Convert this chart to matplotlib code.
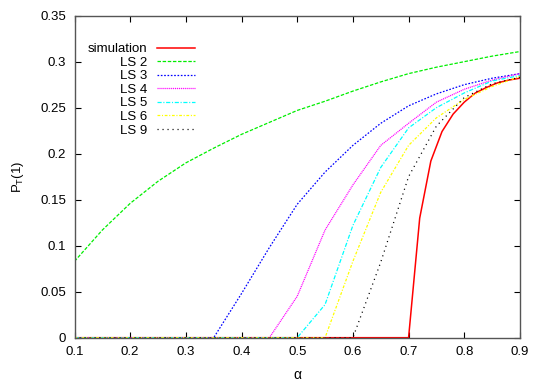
import matplotlib
matplotlib.use("Agg")
import matplotlib.pyplot as plt

plt.rcParams['font.family'] = ['Liberation Sans', 'DejaVu Sans']
plt.rcParams['mathtext.fontset'] = 'custom'
plt.rcParams['mathtext.rm'] = 'Liberation Sans'
plt.rcParams['lines.scale_dashes'] = False

# simulation (red)
sim_x = [0.1, 0.70, 0.72, 0.74, 0.76, 0.78, 0.80, 0.82, 0.84, 0.86, 0.88, 0.90]
sim_y = [0.0, 0.0, 0.130, 0.192, 0.224, 0.243, 0.256, 0.266, 0.272, 0.277, 0.280, 0.282]

# LS curves on a 0.05 grid
alpha = [0.10, 0.15, 0.20, 0.25, 0.30, 0.35, 0.40, 0.45, 0.50,
         0.55, 0.60, 0.65, 0.70, 0.75, 0.80, 0.85, 0.90]
ls2 = [0.083, 0.117, 0.146, 0.170, 0.190, 0.206, 0.221, 0.234, 0.247,
       0.257, 0.268, 0.278, 0.287, 0.294, 0.300, 0.306, 0.311]
ls3 = [0, 0, 0, 0, 0, 0, 0.048, 0.098, 0.145,
       0.180, 0.209, 0.233, 0.252, 0.265, 0.275, 0.282, 0.287]
ls4 = [0, 0, 0, 0, 0, 0, 0, 0, 0.045,
       0.117, 0.166, 0.209, 0.233, 0.256, 0.270, 0.280, 0.287]
ls5 = [0, 0, 0, 0, 0, 0, 0, 0, 0,
       0.036, 0.122, 0.185, 0.228, 0.250, 0.266, 0.279, 0.285]
ls6 = [0, 0, 0, 0, 0, 0, 0, 0, 0,
       0, 0.083, 0.158, 0.209, 0.239, 0.259, 0.273, 0.284]
ls9 = [0, 0, 0, 0, 0, 0, 0, 0, 0,
       0, 0, 0.082, 0.175, 0.230, 0.261, 0.276, 0.283]

fig = plt.figure(figsize=(5.45, 3.82), dpi=100)
ax = fig.add_axes([0.1367, 0.116, 0.8173, 0.843])

ax.plot(sim_x, sim_y, color='#ff0000', lw=1.1, label='simulation')
ax.plot(alpha, ls2, color='#00ee00', lw=0.9, ls=(0, (2.5, 1.2)), label='LS 2')
ax.plot(alpha, ls3, color='#0000ff', lw=0.9, ls=(0, (1.2, 1.2)), label='LS 3')
ax.plot(alpha, ls4, color='#ff00ff', lw=0.9, ls=(0, (0.8, 0.6)), label='LS 4')
ax.plot(alpha, ls5, color='#00ffff', lw=0.9, ls=(0, (3, 1.2, 0.8, 1.2)), label='LS 5')
ax.plot(alpha, ls6, color='#ffff00', lw=0.9, ls=(0, (2, 1.2, 0.8, 1.2)), label='LS 6')
ax.plot(alpha, ls9, color='#000000', lw=0.9, ls=(0, (0.8, 2.8)), label='LS 9')

ax.set_xlim(0.1, 0.9)
ax.set_ylim(0, 0.35)
ax.set_xticks([0.1, 0.2, 0.3, 0.4, 0.5, 0.6, 0.7, 0.8, 0.9])
ax.set_xticklabels(['0.1', '0.2', '0.3', '0.4', '0.5', '0.6', '0.7', '0.8', '0.9'])
ax.set_yticks([0, 0.05, 0.1, 0.15, 0.2, 0.25, 0.3, 0.35])
ax.set_yticklabels(['0', '0.05', '0.1', '0.15', '0.2', '0.25', '0.3', '0.35'])
ax.tick_params(direction='in', length=4, width=0.8, top=True, right=True,
               labelsize=9.5, pad=6, colors='#000000')
for s in ax.spines.values():
    s.set_color('#555555')
    s.set_linewidth(1.0)

ax.set_xlabel('α', fontsize=10, labelpad=7)
ax.set_ylabel(r'P$_\mathrm{T}$(1)', fontsize=9.5, labelpad=10)

ax.legend(loc='upper left', bbox_to_anchor=(0.03, 0.915), frameon=False,
          markerfirst=False, fontsize=9.5, handlelength=2.9, handletextpad=0.7,
          labelspacing=0.1, borderpad=0, borderaxespad=0)

fig.savefig('out.png', dpi=100)
